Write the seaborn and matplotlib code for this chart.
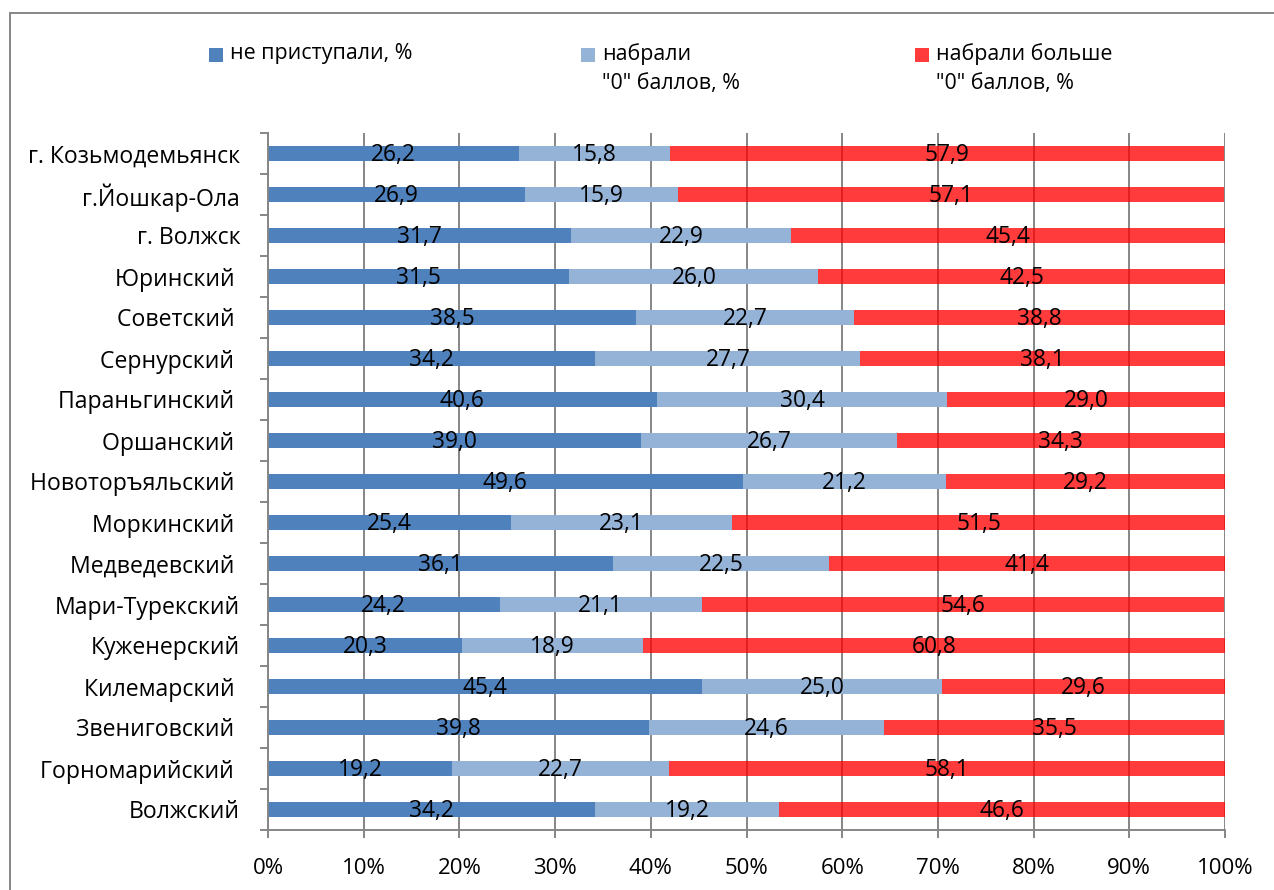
import numpy as np
import pandas as pd
import matplotlib.pyplot as plt
from matplotlib.patches import Rectangle
import seaborn as sns

districts = ["г. Козьмодемьянск", "г.Йошкар-Ола", "г. Волжск", "Юринский ", "Советский ",
             "Сернурский ", "Параньгинский ", "Оршанский ", "Новоторъяльский ", "Моркинский ",
             "Медведевский ", "Мари-Турекский", "Куженерский", "Килемарский ", "Звениговский ",
             "Горномарийский ", "Волжский"]
not_started = [26.2, 26.9, 31.7, 31.5, 38.5, 34.2, 40.6, 39.0, 49.6, 25.4, 36.1, 24.2, 20.3, 45.4, 39.8, 19.2, 34.2]
zero_score = [15.8, 15.9, 22.9, 26.0, 22.7, 27.7, 30.4, 26.7, 21.2, 23.1, 22.5, 21.1, 18.9, 25.0, 24.6, 22.7, 19.2]
above_zero = [57.9, 57.1, 45.4, 42.5, 38.8, 38.1, 29.0, 34.3, 29.2, 51.5, 41.4, 54.6, 60.8, 29.6, 35.5, 58.1, 46.6]

series_names = ["не приступали, %", "набрали\n\"0\" баллов, %", "набрали больше\n\"0\" баллов, %"]
colors = ["#4F81BD", "#95B3D7", "#FF3B3B"]
x_ticks = [0, 10, 20, 30, 40, 50, 60, 70, 80, 90, 100]

sns.set_theme(style="white")
plt.rcParams["font.family"] = ["Open Sans", "DejaVu Sans"]
gray = "#868686"

df = pd.DataFrame({"district": districts, "s1": not_started, "s2": zero_score, "s3": above_zero})
df["c1"] = df["s1"]
df["c2"] = df["s1"] + df["s2"]
df["c3"] = df["c2"] + df["s3"]

fig = plt.figure(figsize=(12.74, 8.9), dpi=100)
ax = fig.add_axes([268 / 1274, 1 - 830 / 890, (1225 - 268) / 1274, (830 - 133) / 890])
ax.set_axisbelow(True)

# stacked bars: draw cumulative totals from the longest to the shortest
# (the red one is a little see-through, like in the original, so the grid shows faintly)
sns.barplot(data=df, x="c3", y="district", color="#FF0000", alpha=0.77, width=0.39, saturation=1,
            errorbar=None, linewidth=0, orient="h", ax=ax)
for col, color in zip(["c2", "c1"], [colors[1], colors[0]]):
    sns.barplot(data=df, x=col, y="district", color=color, width=0.39, saturation=1,
                errorbar=None, linewidth=0, orient="h", ax=ax)

for i, row in df.iterrows():
    left = 0
    for col in ["s1", "s2", "s3"]:
        v = row[col]
        ax.text(left + v / 2, i + 0.03, f"{v:.1f}".replace(".", ","), ha="center", va="center",
                fontsize=16.4, color="black")
        left += v

ax.set_xlim(0, 100)
ax.set_ylim(len(districts) - 0.5, -0.5)
ax.set_xticks(x_ticks)
ax.set_xticklabels([f"{t}%" for t in x_ticks])
ax.set_yticks(np.arange(-0.5, len(districts), 1), minor=True)
ax.set_xlabel("")
ax.set_ylabel("")
ax.grid(axis="x", color=gray, linewidth=1.4)
ax.grid(axis="y", visible=False)

for s in ["top", "right"]:
    ax.spines[s].set_visible(False)
for s in ["left", "bottom"]:
    ax.spines[s].set_color(gray)
    ax.spines[s].set_linewidth(1.4)

ax.tick_params(axis="x", which="major", bottom=True, length=6, width=1.4, color=gray,
               labelsize=16, pad=14, labelcolor="black")
ax.tick_params(axis="y", which="major", left=False, length=0, labelsize=16.6, pad=20, labelcolor="black")
ax.tick_params(axis="y", which="minor", left=True, length=6, width=1.4, color=gray)

# legend
leg_x = [209, 581, 915]
for x, name, color in zip(leg_x, series_names, colors):
    fig.add_artist(Rectangle((x / 1274, 1 - 62 / 890), 14 / 1274, 14 / 890,
                             transform=fig.transFigure, color=color, linewidth=0))
    fig.text((x + 21) / 1274, 1 - 43 / 890, name, ha="left", va="top", fontsize=15.4,
             linespacing=1.5, color="black")

# outer chart frame
fig.add_artist(Rectangle((10 / 1274, -0.1), 1.2, 1.1 - 13 / 890, transform=fig.transFigure,
                         fill=False, edgecolor=gray, linewidth=1.4))

fig.savefig("out.png", dpi=100)
